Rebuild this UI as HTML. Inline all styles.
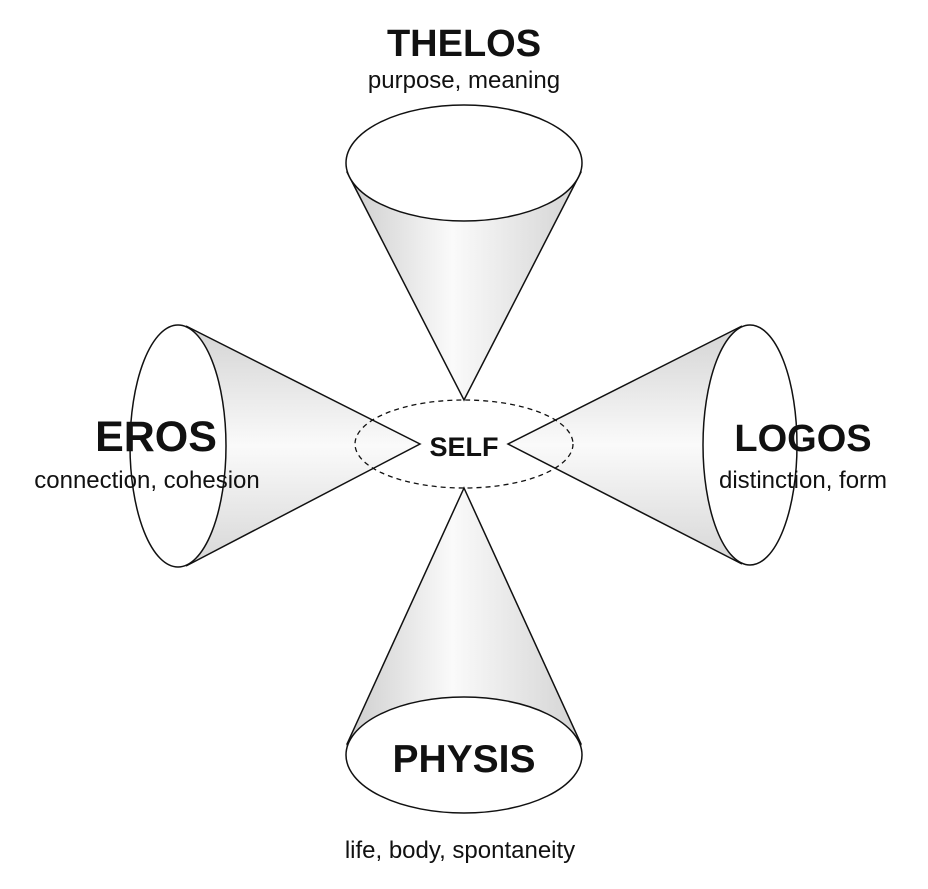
<!DOCTYPE html>
<html><head><style>
html,body{margin:0;padding:0;background:#fff;}
svg{display:block}
text{font-family:"Liberation Sans",sans-serif;fill:#111;}
.b{font-weight:bold;}
</style></head><body>
<svg width="928" height="889" viewBox="0 0 928 889" xmlns="http://www.w3.org/2000/svg">
<defs>
<linearGradient id="gv" x1="0" y1="0" x2="1" y2="0">
<stop offset="0" stop-color="#cdcdcd"/><stop offset="0.45" stop-color="#fafafa"/><stop offset="1" stop-color="#d3d3d3"/>
</linearGradient>
<linearGradient id="gh" x1="0" y1="0" x2="0" y2="1">
<stop offset="0" stop-color="#d3d3d3"/><stop offset="0.5" stop-color="#fafafa"/><stop offset="1" stop-color="#d6d6d6"/>
</linearGradient>
</defs>
<!-- top cone -->
<path d="M347,172 L464,400 L581,172 A118,58 0 0 0 347,172 Z" fill="url(#gv)" stroke="#111" stroke-width="1.5"/>
<ellipse cx="464" cy="163" rx="118" ry="58" fill="#fff" stroke="#111" stroke-width="1.5"/>
<!-- bottom cone -->
<path d="M347,744 L464,488 L581,744 A118,58 0 0 1 347,744 Z" fill="url(#gv)" stroke="#111" stroke-width="1.5"/>
<ellipse cx="464" cy="755" rx="118" ry="58" fill="#fff" stroke="#111" stroke-width="1.5"/>
<!-- left cone -->
<ellipse cx="178" cy="446" rx="48" ry="121" fill="#fff" stroke="none"/>
<path d="M186,326 L420,444 L186,566 L178,567 A48,121 0 0 0 178,325 Z" fill="url(#gh)" stroke="none"/>
<path d="M186,326 L420,444 L186,566" fill="none" stroke="#111" stroke-width="1.5"/>
<ellipse cx="178" cy="446" rx="48" ry="121" fill="none" stroke="#111" stroke-width="1.5"/>
<!-- right cone -->
<ellipse cx="750" cy="445" rx="47" ry="120" fill="#fff" stroke="none"/>
<path d="M742,326 L508,444 L742,564 L750,565 A47,120 0 0 1 750,325 Z" fill="url(#gh)" stroke="none"/>
<path d="M742,326 L508,444 L742,564" fill="none" stroke="#111" stroke-width="1.5"/>
<ellipse cx="750" cy="445" rx="47" ry="120" fill="none" stroke="#111" stroke-width="1.5"/>
<!-- dashed self ellipse -->
<ellipse cx="464" cy="444" rx="109" ry="44" fill="none" stroke="#111" stroke-width="1.3" stroke-dasharray="5,4"/>
<!-- labels -->
<text x="464" y="56" text-anchor="middle" class="b" font-size="38">THELOS</text>
<text x="464" y="88" text-anchor="middle" font-size="24">purpose, meaning</text>
<text x="156" y="451" text-anchor="middle" class="b" font-size="43">EROS</text>
<text x="147" y="488" text-anchor="middle" font-size="24">connection, cohesion</text>
<text x="803" y="451" text-anchor="middle" class="b" font-size="38">LOGOS</text>
<text x="803" y="488" text-anchor="middle" font-size="24">distinction, form</text>
<text x="464" y="456" text-anchor="middle" class="b" font-size="27">SELF</text>
<text x="464" y="772" text-anchor="middle" class="b" font-size="39">PHYSIS</text>
<text x="460" y="858" text-anchor="middle" font-size="24">life, body, spontaneity</text>
</svg>
</body></html>
